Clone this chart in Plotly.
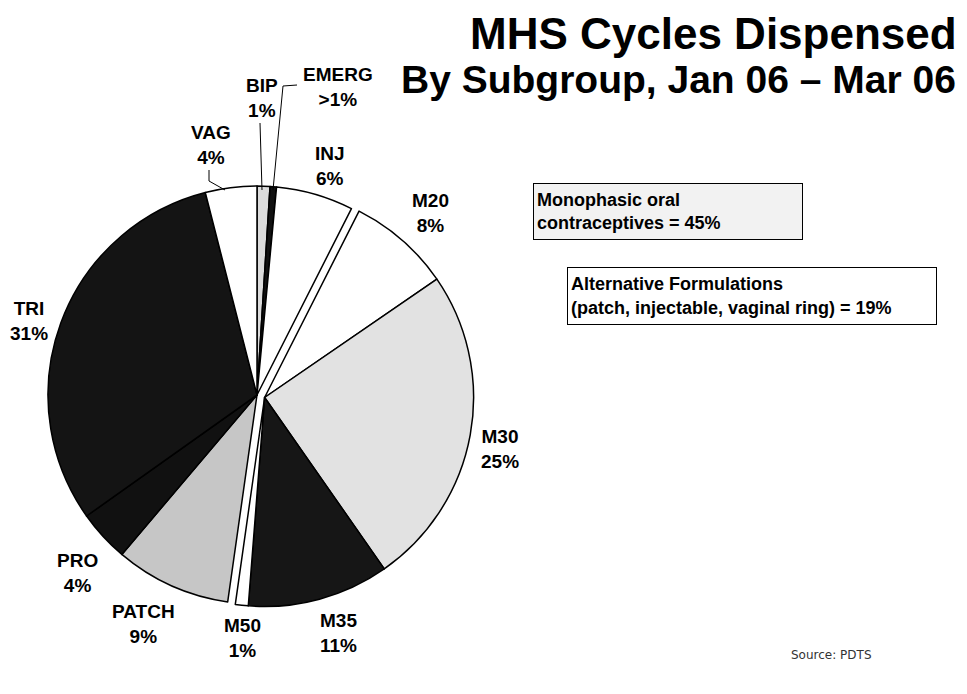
import plotly.graph_objects as go

# slices, clockwise from 12 o'clock
labels = ["BIP", "EMERG", "INJ", "M20", "M30", "M35", "M50", "PATCH", "PRO", "TRI", "VAG"]
values = [1, 0.5, 6, 8, 25, 11, 1, 9, 4, 31, 4]
pct_text = ["1%", ">1%", "6%", "8%", "25%", "11%", "1%", "9%", "4%", "31%", "4%"]
monophasic = ["M20", "M30", "M35", "M50"]
colors = ["#dcdcdc", "#111111", "#ffffff", "#ffffff", "#e2e2e2", "#161616",
          "#ffffff", "#c6c6c6", "#111111", "#141414", "#ffffff"]

title = "MHS Cycles Dispensed"
subtitle = "By Subgroup, Jan 06 \u2013 Mar 06"
box1_text = "Monophasic oral<br>contraceptives = 45%"
box2_text = "Alternative Formulations<br>(patch, injectable, vaginal ring) = 19%"
source = "Source: PDTS"

# the page body keeps its 8px margin, so the figure is a bit smaller
PAD = 8
W, H = 967 - 2 * PAD, 694 - 2 * PAD


def px(x):
    # page pixel -> paper x
    return (x - PAD) / W


def py(y):
    # page pixel -> paper y
    return 1 - (y - PAD) / H


# pie geometry (page pixels)
cx, cy, r = 257, 395, 209
shift_x, shift_y = 7.6, 2.5  # monophasic group pulled out

clear = "rgba(0,0,0,0)"
is_mono = [l in monophasic for l in labels]

base_fill = [clear if m else c for m, c in zip(is_mono, colors)]
base_line = [clear if m else "black" for m in is_mono]
mono_fill = [c if m else clear for m, c in zip(is_mono, colors)]
mono_line = ["black" if m else clear for m in is_mono]


def pie(fill, line, dx, dy):
    return go.Pie(
        labels=labels,
        values=values,
        sort=False,
        direction="clockwise",
        rotation=0,
        textinfo="none",
        hoverinfo="skip",
        marker=dict(colors=fill, line=dict(color=line, width=1.5)),
        domain=dict(x=[px(cx - r + dx), px(cx + r + dx)],
                    y=[py(cy + r + dy), py(cy - r + dy)]),
        showlegend=False,
    )


fig = go.Figure([pie(base_fill, base_line, 0, 0),
                 pie(mono_fill, mono_line, shift_x, shift_y)])

# label positions (page pixel centres)
label_pos = {
    "BIP": (262, 98), "EMERG": (338, 87), "INJ": (330, 166), "M20": (430, 213),
    "M30": (500, 449), "M35": (338, 633), "M50": (242, 638), "PATCH": (143, 624),
    "PRO": (77, 573), "TRI": (29, 321), "VAG": (211, 145),
}

FONT = "Liberation Sans, Arial"
annotations = []
for lab, pct in zip(labels, pct_text):
    x, y = label_pos[lab]
    annotations.append(dict(
        x=px(x), y=py(y), xref="paper", yref="paper", showarrow=False,
        xanchor="center", yanchor="middle",
        text=f"<b>{lab}<br>{pct}</b>", align="center",
        font=dict(family=FONT, size=19, color="black"),
    ))

annotations += [
    dict(x=px(958), y=py(PAD), xref="paper", yref="paper", showarrow=False,
         xanchor="right", yanchor="top", borderpad=0, text=f"<b>{title}</b>",
         font=dict(family=FONT, size=44, color="black")),
    dict(x=px(958), y=py(80), xref="paper", yref="paper", showarrow=False,
         xanchor="right", yanchor="middle", text=f"<b>{subtitle}</b>",
         font=dict(family=FONT, size=39, color="black")),
    dict(x=px(533), y=py(183), xref="paper", yref="paper", showarrow=False,
         xanchor="left", yanchor="top", width=262, height=49, align="left",
         text=f"<b>{box1_text}</b>", bgcolor="#f2f2f2", bordercolor="black",
         borderwidth=1, borderpad=3,
         font=dict(family=FONT, size=18, color="black")),
    dict(x=px(567), y=py(267), xref="paper", yref="paper", showarrow=False,
         xanchor="left", yanchor="top", width=362, height=50, align="left",
         text=f"<b>{box2_text}</b>", bgcolor="white", bordercolor="black",
         borderwidth=1, borderpad=3,
         font=dict(family=FONT, size=18, color="black")),
    dict(x=px(831), y=py(655), xref="paper", yref="paper", showarrow=False,
         xanchor="center", yanchor="middle", text=source,
         font=dict(family="DejaVu Sans, Arial", size=12, color="#333333")),
]

# leader lines
leaders = [
    [(209, 170), (209, 181), (225, 190)],   # VAG
    [(260, 123), (262, 190)],               # BIP
    [(297, 85), (283, 86), (273, 190)],     # EMERG
]
shapes = []
for pts in leaders:
    path = "M " + " L ".join(f"{px(x)},{py(y)}" for x, y in pts)
    shapes.append(dict(type="path", path=path, xref="paper", yref="paper",
                       line=dict(color="black", width=1)))

fig.update_layout(
    width=W, height=H,
    margin=dict(l=0, r=0, t=0, b=0),
    paper_bgcolor="white",
    plot_bgcolor="white",
    annotations=annotations,
    shapes=shapes,
)

fig.write_html("out.html")
